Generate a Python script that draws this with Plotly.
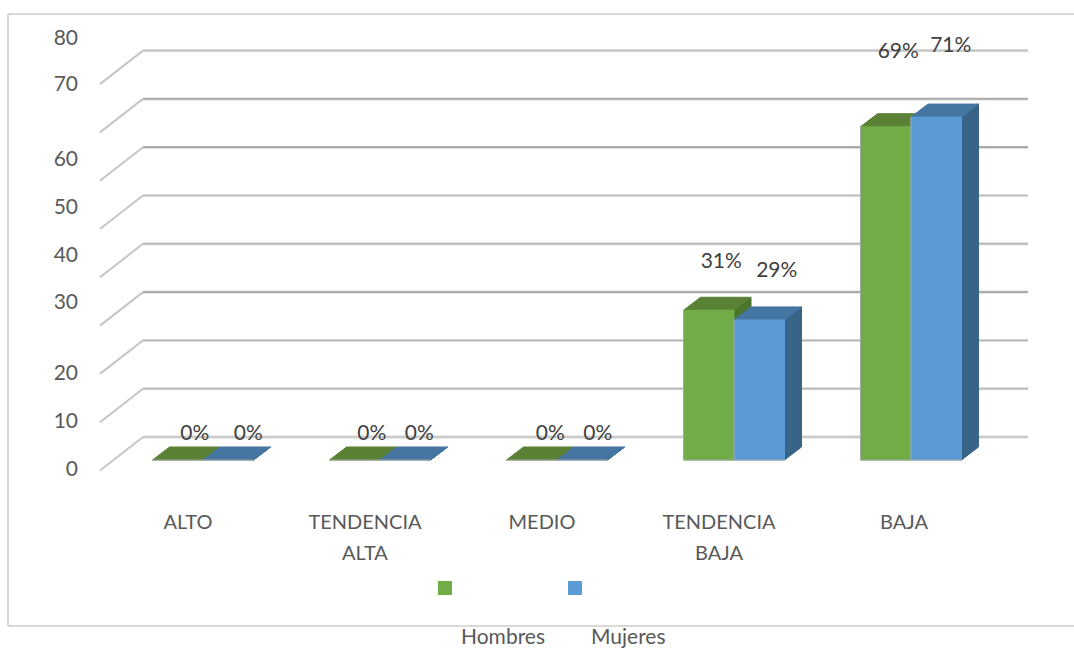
import plotly.graph_objects as go

# ---- data ----
categories = ["ALTO", "TENDENCIA", "MEDIO", "TENDENCIA", "BAJA"]
second_lines = ["", "ALTA", "", "BAJA", ""]
hombres = [0, 0, 0, 31, 69]
mujeres = [0, 0, 0, 29, 71]
grid_values = [0, 10, 20, 30, 40, 50, 60, 70, 80]
y_tick_text = ["0", "10", "20", "30", "40", "50", "60", "70", "80"]
series_names = ["Hombres", "Mujeres"]

# ---- layout constants (pixels in the 1074x650 page) ----
W, H = 1074, 650
ML, MB = 79, 142
PX0, PX_CAT = 203.0, 177.0      # first category centre, category pitch
PY0, PY_UNIT = 460.0, 4.83      # y pixel of value 0 on the bars' front plane, px per unit
BAR_W = 50.5
DEPTH_X, DEPTH_Y = 17.0, 13.0   # bar depth
WALL_X0, WALL_X1, WALL_Y0 = 143.0, 1028.0, 437.0
FLOOR_DX, FLOOR_DY = 43.0, 33.5
y_tick_px = [469, 421, 373, 302, 255, 207, 159, 84, 38]   # labels sit unevenly in the source
x_tick_px = [188, 365, 542, 719, 904]
second_px = [365, 719]
lab_dx_h = [17, 17, 18.5, 12.5, 12.5]
lab_dx_m = [20, 14, 15.5, 17.5, 14.5]
lab_up_h = [25, 25, 25, 48, 74]
lab_up_m = [25, 25, 25, 48, 70]
grid_colors = ["#bdbdbd", "#b8b8b8", "#b8b8b8", "#8f8f8f", "#b0b0b0",
               "#bdbdbd", "#8f8f8f", "#999999", "#c4c4c4"]
HALO, SLANT = "#d9d9d9", "#c6c6c6"

GREEN, GREEN_TOP, GREEN_SIDE = "#70AD47", "#5A8136", "#4B752C"
BLUE, BLUE_TOP, BLUE_SIDE = "#5B9BD5", "#4575A1", "#386488"
EDGE = "#A6A6A6"

# scales: data <-> pixels
def dx(px):   # pixels -> category units (difference)
    return px / PX_CAT
def dy(px):   # pixels -> value units (difference)
    return px / PY_UNIT
def xv(px):   # pixel -> x data
    return (px - PX0) / PX_CAT
def yv(px):   # pixel -> y data
    return (PY0 - px) / PY_UNIT

fig = go.Figure()

def poly(xs, ys, fill, edge):
    fig.add_trace(go.Scatter(x=xs, y=ys, mode="lines", fill="toself", fillcolor=fill,
                             line=dict(color=edge, width=1), hoverinfo="skip", showlegend=False))

def line(xs, ys, color, width):
    fig.add_trace(go.Scatter(x=xs, y=ys, mode="lines", line=dict(color=color, width=width),
                             hoverinfo="skip", showlegend=False))

# back wall gridlines with the floor slant at the left
wall_shift = dy(PY0 - WALL_Y0)
for v, c in zip(grid_values, grid_colors):
    yb = v + wall_shift
    line([xv(WALL_X0 - FLOOR_DX), xv(WALL_X0)], [yb - dy(FLOOR_DY), yb], SLANT, 2)
    line([xv(WALL_X0), xv(WALL_X1)], [yb, yb], HALO, 3)
    line([xv(WALL_X0), xv(WALL_X1)], [yb, yb], c, 1.2)

# 3-D looking bars, built from the values
def bar(x_left, v, front, top, side):
    w, ddx, ddy = dx(BAR_W), dx(DEPTH_X), dy(DEPTH_Y)
    poly([x_left + w, x_left + w + ddx, x_left + w + ddx, x_left + w, x_left + w],
         [0, ddy, v + ddy, v, 0], side, side)
    poly([x_left, x_left + ddx, x_left + w + ddx, x_left + w, x_left],
         [v, v + ddy, v + ddy, v, v], top, top)
    if v > 0:
        poly([x_left, x_left + w, x_left + w, x_left, x_left],
             [0, 0, v, v, 0], front, front)
        line([x_left, x_left], [v, 0], EDGE, 1)
    line([x_left, x_left + w], [0, 0], EDGE, 1)

for i, (h, m) in enumerate(zip(hombres, mujeres)):
    bar(i - dx(BAR_W), h, GREEN, GREEN_TOP, GREEN_SIDE)
    bar(float(i), m, BLUE, BLUE_TOP, BLUE_SIDE)

# data labels
lab_x, lab_y, lab_t = [], [], []
for i in range(len(categories)):
    lab_x += [i - dx(BAR_W / 2) + dx(lab_dx_h[i]), i + dx(BAR_W / 2) + dx(lab_dx_m[i])]
    lab_y += [hombres[i] + dy(lab_up_h[i]), mujeres[i] + dy(lab_up_m[i])]
    lab_t += [f"{hombres[i]}%", f"{mujeres[i]}%"]
fig.add_trace(go.Scatter(x=lab_x, y=lab_y, text=lab_t, mode="text", textposition="middle center",
                         textfont=dict(family="Lato", size=21, color="#404040"),
                         hoverinfo="skip", showlegend=False))

plot_h = H - MB
def py(px):   # page pixel -> paper fraction
    return (plot_h - px) / plot_h
def px_(px):
    return (px - ML) / (W - ML)

annotations = []
for t, xp in zip([s for s in second_lines if s], second_px):
    annotations.append(dict(text=t, x=px_(xp), y=py(552), xref="paper", yref="paper",
                            showarrow=False, xanchor="center", yanchor="middle",
                            font=dict(family="Lato", size=20, color="#595959")))
for t, xp in zip(series_names, [503, 628]):
    annotations.append(dict(text=t, x=px_(xp), y=py(635), xref="paper", yref="paper",
                            showarrow=False, xanchor="center", yanchor="middle", borderpad=0,
                            font=dict(family="Lato", size=21, color="#595959")))

shapes = [
    # chart frame: top, left, bottom (open at the right edge of the page)
    dict(type="line", xref="paper", yref="paper", x0=px_(8), x1=px_(1074), y0=py(14), y1=py(14),
         line=dict(color="#D9D9D9", width=2)),
    dict(type="line", xref="paper", yref="paper", x0=px_(8), x1=px_(8), y0=py(14), y1=py(626),
         line=dict(color="#D9D9D9", width=2)),
    dict(type="line", xref="paper", yref="paper", x0=px_(8), x1=px_(1074), y0=py(626), y1=py(626),
         line=dict(color="#D9D9D9", width=2)),
    # legend swatches
    dict(type="rect", xref="paper", yref="paper", x0=px_(438), x1=px_(452), y0=py(581), y1=py(595),
         fillcolor=GREEN, line=dict(width=0)),
    dict(type="rect", xref="paper", yref="paper", x0=px_(568), x1=px_(582), y0=py(581), y1=py(595),
         fillcolor=BLUE, line=dict(width=0)),
]

fig.update_layout(
    width=W, height=H, margin=dict(l=ML, r=0, t=0, b=MB, pad=0),
    paper_bgcolor="white", plot_bgcolor="white", showlegend=False,
    shapes=shapes, annotations=annotations,
    xaxis=dict(range=[xv(ML), xv(W)], tickmode="array",
               tickvals=[xv(p) for p in x_tick_px], ticktext=categories,
               showgrid=False, zeroline=False, showline=False, ticks="", ticklen=0,
               tickfont=dict(family="Lato", size=20, color="#595959")),
    yaxis=dict(range=[yv(plot_h), yv(0)], tickmode="array",
               tickvals=[yv(p) for p in y_tick_px], ticktext=y_tick_text,
               showgrid=False, zeroline=False, showline=False, ticks="", ticklen=0,
               tickfont=dict(family="Lato", size=21, color="#595959")),
)

fig.write_html("out.html", config={"displayModeBar": False},
               post_script="document.body.style.margin='0';document.body.style.overflow='hidden';")
